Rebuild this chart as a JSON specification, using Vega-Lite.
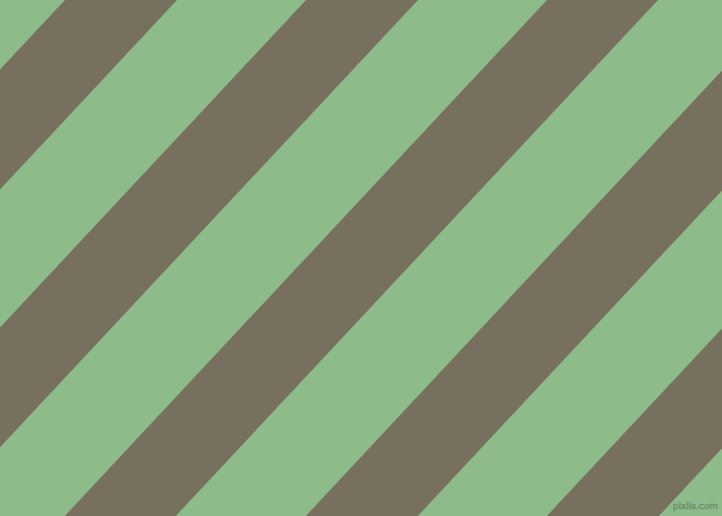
{
  "$schema": "https://vega.github.io/schema/vega-lite/v6.json",
  "width": 722,
  "height": 516,
  "autosize": {"type": "fit", "contains": "padding"},
  "padding": 0,
  "background": "#8dbc8a",
  "config": {"view": {"stroke": null, "fill": "#8dbc8a"}},
  "layer": [
    {
      "data": {
        "values": [
          {"stripe": 0, "x": 0, "y": 69.55, "y2": 189.39},
          {"stripe": 0, "x": 722, "y": -702.99, "y2": -583.15},
          {"stripe": 1, "x": 0, "y": 327.42, "y2": 447.26},
          {"stripe": 1, "x": 722, "y": -445.12, "y2": -325.28},
          {"stripe": 2, "x": 0, "y": 585.29, "y2": 704.06},
          {"stripe": 2, "x": 722, "y": -187.25, "y2": -68.48},
          {"stripe": 3, "x": 0, "y": 843.16, "y2": 963.0},
          {"stripe": 3, "x": 722, "y": 70.62, "y2": 190.46},
          {"stripe": 4, "x": 0, "y": 1101.03, "y2": 1220.87},
          {"stripe": 4, "x": 722, "y": 328.49, "y2": 448.33}
        ]
      },
      "mark": {"type": "area", "clip": true, "color": "#78705e", "interpolate": "linear"},
      "encoding": {
        "x": {"field": "x", "type": "quantitative", "axis": null,
              "scale": {"domain": [0, 722], "nice": false, "zero": false}},
        "y": {"field": "y", "type": "quantitative", "axis": null, "stack": null,
              "scale": {"domain": [0, 516], "nice": false, "zero": false, "reverse": true}},
        "y2": {"field": "y2"},
        "detail": {"field": "stripe", "type": "nominal"}
      }
    },
    {
      "data": {"values": [{"label": "pixlis.com", "x": 718, "y": 511}]},
      "mark": {"type": "text", "align": "right", "baseline": "bottom", "fontSize": 9,
               "font": "DejaVu Sans", "color": "#8dbc8a", "stroke": "#6e8a6b", "strokeWidth": 0.6},
      "encoding": {
        "x": {"field": "x", "type": "quantitative"},
        "y": {"field": "y", "type": "quantitative"},
        "text": {"field": "label"}
      }
    }
  ]
}
